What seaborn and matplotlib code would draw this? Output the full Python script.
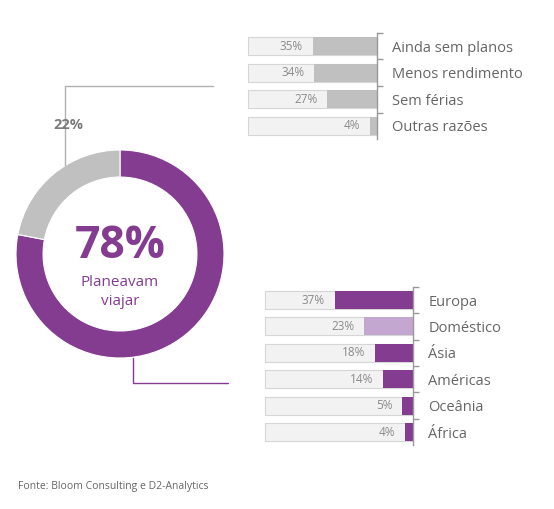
import matplotlib
matplotlib.use("Agg")
import matplotlib.pyplot as plt
from matplotlib.lines import Line2D
import seaborn as sns

# donut data
plan_labels = ["Planeavam viajar", "Não planeavam"]
plan_values = [78, 22]

# reasons for not travelling
reasons = ["Ainda sem planos", "Menos rendimento", "Sem férias", "Outras razões"]
reason_values = [35, 34, 27, 4]

# destinations
destinations = ["Europa", "Doméstico", "Ásia", "Américas", "Oceânia", "África"]
dest_values = [37, 23, 18, 14, 5, 4]

SCALE_MAX = 70

PURPLE = "#843c90"
LIGHT_PURPLE = "#c4a7d0"
GREY = "#c0c0c0"
BG = "#f2f2f2"
BG_EDGE = "#d6d6d6"
TEXT = "#666666"
LINE = "#9a9a9a"

W, H = 554, 509

sns.set_theme(style="white")
plt.rcParams["font.family"] = ["Open Sans", "DejaVu Sans"]

fig = plt.figure(figsize=(W / 100, H / 100), dpi=100)
fig.patch.set_facecolor("white")


def box(left, top, right, bottom):
    return [left / W, 1 - bottom / H, (right - left) / W, (bottom - top) / H]


def fig_line(xs, ys, color):
    fig.add_artist(Line2D([x / W for x in xs], [1 - y / H for y in ys],
                          transform=fig.transFigure, color=color, lw=1))


# Donut
ax_d = fig.add_axes(box(16, 150, 224, 358))
ax_d.pie(plan_values, colors=[PURPLE, GREY], startangle=90, counterclock=False,
         radius=1, wedgeprops=dict(width=0.26, edgecolor="white", linewidth=0.8))
ax_d.set_xlim(-1, 1)
ax_d.set_ylim(-1, 1)
ax_d.set_aspect("equal")
ax_d.axis("off")
ax_d.text(0, 0.07, f"{plan_values[0]}%", ha="center", va="center",
          fontsize=32, fontweight="bold", color=PURPLE)
ax_d.text(0, -0.27, "Planeavam", ha="center", va="center", fontsize=11, color=PURPLE)
ax_d.text(0, -0.46, "viajar", ha="center", va="center", fontsize=11, color=PURPLE)

fig.text(68 / W, 1 - 125 / H, f"{plan_values[1]}%", ha="center", va="center",
         fontsize=10.5, fontweight="bold", color="#7a7a7a")

# connectors
fig_line([213, 65, 65], [86, 86, 165], "#b0b0b0")
fig_line([133, 133, 228], [358, 383, 383], PURPLE)


def bar_panel(ax, labels, values, palette):
    n = len(labels)
    sns.barplot(x=[SCALE_MAX] * n, y=labels, orient="h", color=BG, saturation=1,
                edgecolor=BG_EDGE, linewidth=0.8, width=0.675, ax=ax)
    sns.barplot(x=values, y=labels, hue=labels, orient="h", palette=palette,
                saturation=1, legend=False, width=0.675, linewidth=0, ax=ax)
    for p in ax.patches:
        p.set_clip_on(False)
    ax.set_xlim(SCALE_MAX, 0)
    ax.set_ylim(n - 0.5, -0.5)
    ax.set_xlabel("")
    ax.set_ylabel("")
    ax.set_xticks([])
    for i, v in enumerate(values):
        ax.annotate(f"{v}%", (v, i), xytext=(-7, 0), textcoords="offset points",
                    ha="right", va="center", fontsize=8.5, color="#8a8a8a")
    ax.yaxis.tick_right()
    ax.set_yticks(range(n))
    ax.set_yticklabels(labels)
    ax.set_yticks([i - 0.5 for i in range(n)], minor=True)
    ax.tick_params(axis="y", which="major", length=0, pad=11,
                   labelsize=10.5, labelcolor=TEXT)
    ax.tick_params(axis="y", which="minor", length=4, width=1, color=LINE,
                   right=True, left=False)
    for s in ["top", "left", "bottom"]:
        ax.spines[s].set_visible(False)
    ax.spines["right"].set_color(LINE)
    ax.spines["right"].set_linewidth(1)
    ax.set_facecolor("none")


ax_r = fig.add_axes(box(248, 32.7, 377, 139.3))
bar_panel(ax_r, reasons, reason_values, {r: GREY for r in reasons})

dest_palette = {d: PURPLE for d in destinations}
dest_palette["Doméstico"] = LIGHT_PURPLE
ax_b = fig.add_axes(box(265, 286.8, 413, 445.2))
bar_panel(ax_b, destinations, dest_values, dest_palette)

fig.text(18 / W, 1 - 486 / H, "Fonte: Bloom Consulting e D2-Analytics",
         ha="left", va="center", fontsize=7.5, color=TEXT)

fig.savefig("out.png", dpi=100, facecolor="white")
